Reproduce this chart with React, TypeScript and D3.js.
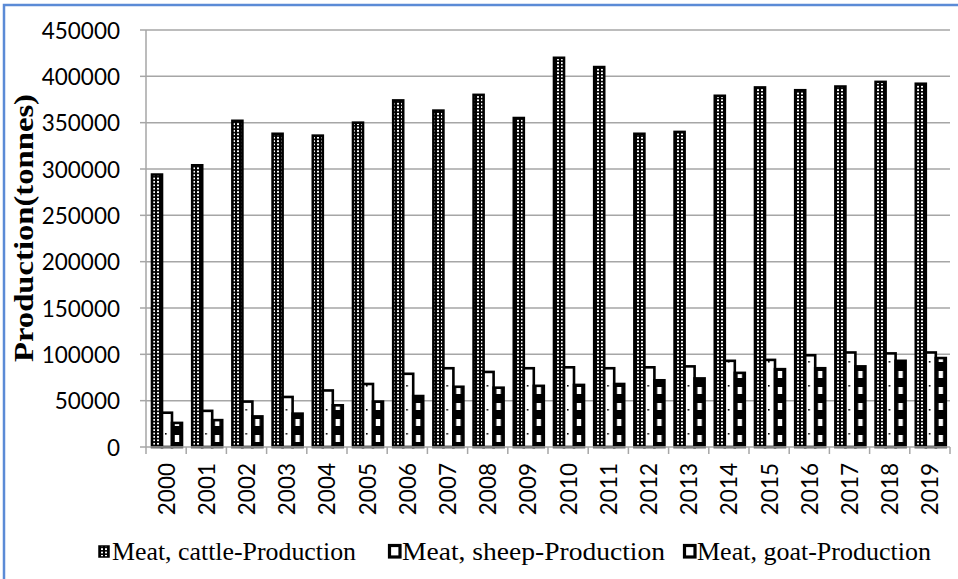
import React from "react";
import * as d3 from "d3";

const years = ["2000","2001","2002","2003","2004","2005","2006","2007","2008","2009","2010","2011","2012","2013","2014","2015","2016","2017","2018","2019"];
const cattle = [294000,304000,352000,338000,336000,350000,374000,363000,380000,355000,420000,410000,338000,340000,379000,388000,385000,389000,394000,392000];
const sheep = [37000,39000,49000,54000,61000,68000,79000,85000,81000,85000,86000,85000,86000,87000,93000,94000,99000,102000,101000,102000];
const goat = [26000,29000,33000,36000,45000,49000,55000,65000,64000,66000,67000,68000,72000,74000,80000,84000,85000,87000,93000,96000];
const yTicks = [0,50000,100000,150000,200000,250000,300000,350000,400000,450000];
const seriesNames = ["Meat, cattle-Production","Meat, sheep-Production","Meat, goat-Production"];
const seriesKeys = ["cattle","sheep","goat"];
const yTitle = "Production(tonnes)";

export default function App() {
  const W = 958, H = 579;
  const left = 146, right = 950, top = 30, bottom = 447;
  const x = d3.scaleBand<string>().domain(years).range([left, right]).padding(0);
  const inner = d3.scaleBand<string>().domain(seriesKeys).range([6, 36]).padding(0);
  const y = d3.scaleLinear().domain([0, 450000]).range([bottom, top]);
  const bw = x.bandwidth();
  const ib = inner.bandwidth();
  const data: Record<string, number[]> = { cattle, sheep, goat };
  const grid = "#a6a6a6";
  const legendX = [98, 388, 683];
  const legendLen = [246, 265, 236];
  const barX = (yr: string, k: string) => (x(yr) as number) + (inner(k) as number);

  return (
    <svg width={W} height={H} style={{ position: "absolute", left: 0, top: 0, background: "#fff" }}>
      <defs>
        <pattern id="pCattle" patternUnits="userSpaceOnUse" width={4} height={3.4}>
          <rect width={4} height={3.4} fill="#000" />
          <rect x={1} y={0.8} width={2} height={1.8} fill="#fff" />
        </pattern>
        {years.map((yr) => (
          <pattern key={"ps" + yr} id={"pSheep" + yr} patternUnits="userSpaceOnUse" x={barX(yr, "sheep")} y={bottom} width={ib} height={24}>
            <rect width={ib} height={24} fill="#fff" />
            <rect x={3} y={10} width={1.6} height={1.6} fill="#000" />
          </pattern>
        ))}
        {years.map((yr) => (
          <pattern key={"pg" + yr} id={"pGoat" + yr} patternUnits="userSpaceOnUse" x={barX(yr, "goat")} y={bottom} width={ib} height={16}>
            <rect width={ib} height={16} fill="#000" />
            <rect x={2.8} y={4} width={4.4} height={7} fill="#fff" />
          </pattern>
        ))}
      </defs>
      <rect x={4} y={5} width={1000} height={1000} fill="#fff" stroke="#5b8bd6" strokeWidth={2.5} />
      {yTicks.map((t) => (
        <g key={t}>
          {t > 0 && <line x1={left} x2={right} y1={y(t)} y2={y(t)} stroke={grid} strokeWidth={1.5} />}
          <line x1={left - 6} x2={left} y1={y(t)} y2={y(t)} stroke={grid} strokeWidth={1.5} />
          <text x={120} y={y(t)} textAnchor="end" dominantBaseline="central" fontFamily="Lato, 'Open Sans', sans-serif" fontSize={22.5} fill="#000">{t}</text>
        </g>
      ))}
      <line x1={left} x2={left} y1={top} y2={bottom} stroke={grid} strokeWidth={1.5} />
      {years.map((yr, i) => (
        <g key={yr}>
          {seriesKeys.map((k) => {
            const v = data[k][i];
            const fill = k === "cattle" ? "url(#pCattle)" : k === "sheep" ? `url(#pSheep${yr})` : `url(#pGoat${yr})`;
            return <rect key={k} x={barX(yr, k)} y={y(v)} width={ib} height={bottom - y(v)} fill={fill} stroke="#000" strokeWidth={2.6} />;
          })}
        </g>
      ))}
      <line x1={left} x2={right} y1={bottom} y2={bottom} stroke={grid} strokeWidth={1.5} />
      {years.concat(["end"]).map((yr, i) => {
        const xx = left + i * bw;
        return <line key={"t" + yr} x1={xx} x2={xx} y1={bottom} y2={bottom + 7} stroke={grid} strokeWidth={1.5} />;
      })}
      {years.map((yr) => {
        const cx = (x(yr) as number) + bw / 2;
        return (
          <text key={"l" + yr} transform={`translate(${cx},${463}) rotate(-90)`} textAnchor="end" dominantBaseline="central" fontFamily="Lato, 'Open Sans', sans-serif" fontSize={22.5} fill="#000">{yr}</text>
        );
      })}
      <text transform={`translate(33,228) rotate(-90)`} textAnchor="middle" fontFamily="'Liberation Serif', 'Times New Roman', serif" fontWeight="bold" fontSize={28} textLength={268} lengthAdjust="spacingAndGlyphs" fill="#000">{yTitle}</text>
      {seriesNames.map((n, i) => (
        <g key={n}>
          {i === 0 ? (
            <rect x={legendX[i] + 1} y={546} width={10} height={11} fill="url(#pCattle)" stroke="#000" strokeWidth={1.5} />
          ) : (
            <rect x={legendX[i] + 1.5} y={545.5} width={10.5} height={11.5} fill="#fff" stroke="#000" strokeWidth={3.2} />
          )}
          <text x={legendX[i] + 14} y={560} fontFamily="'Liberation Serif', 'Times New Roman', serif" fontSize={25} textLength={legendLen[i] - 2} lengthAdjust="spacingAndGlyphs" fill="#000">{n}</text>
        </g>
      ))}
    </svg>
  );
}
